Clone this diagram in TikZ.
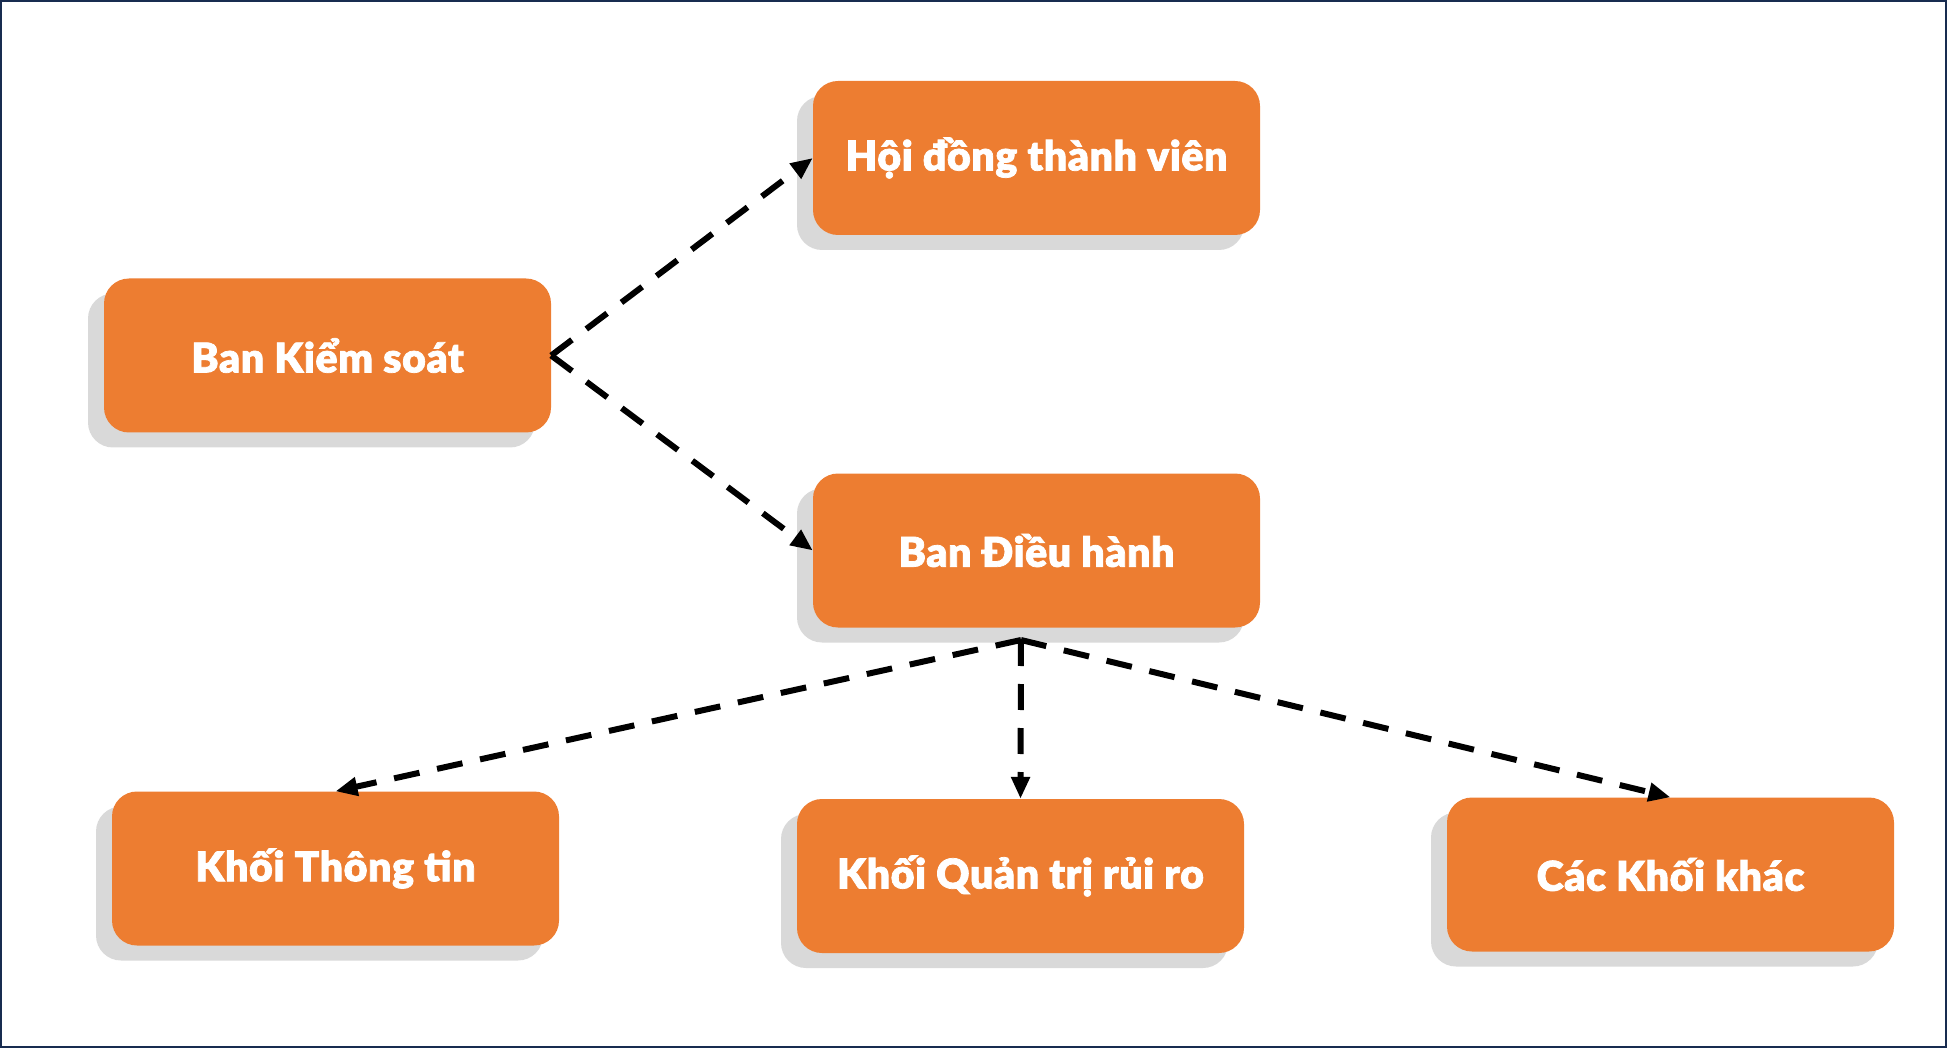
\documentclass[tikz,border=0pt]{standalone}
\usepackage{fontspec}
\newfontfamily\boxfont{Lato Black}[FakeBold=1.8,LetterSpace=1.5]
\usetikzlibrary{shadows,arrows.meta}
\definecolor{boxorange}{RGB}{237,125,49}
\definecolor{shadowgray}{RGB}{217,217,217}
\definecolor{framenavy}{RGB}{24,44,80}
\tikzset{
  orgbox/.style={rounded corners=25pt, fill=boxorange, minimum width=447pt,
    minimum height=154pt, inner sep=0pt, text=white,
    font=\boxfont\fontsize{41}{44}\selectfont,
    drop shadow={shadow xshift=-16pt, shadow yshift=-15pt, fill=shadowgray, opacity=1}},
  link/.style={line width=6pt, dash pattern=on 26pt off 18pt, black,
    -{Triangle[length=22pt,width=18pt]}}
}
\begin{document}
\begin{tikzpicture}[x=1pt,y=-1pt]
\useasboundingbox (0,0) rectangle (1947,1048);
\draw[framenavy, line width=2.4pt] (1.2,1.2) rectangle (1945.8,1046.8);
\node[orgbox] (hd) at (1036.5,158) {Hội đồng thành viên};
\node[orgbox] (bks) at (327.5,355.5) {Ban Kiểm soát};
\node[orgbox] (bdh) at (1036.5,550.5) {Ban Điều hành};
\node[orgbox] (ktt) at (335.5,868.5) {Khối Thông tin};
\node[orgbox] (kqt) at (1020.5,876) {Khối Quản trị rủi ro};
\node[orgbox] (kkk) at (1670.5,874.5) {Các Khối khác};
\coordinate (hub) at (1021,640);
\draw[link] (bks.east) -- (hd.west);
\draw[link] (bks.east) -- (bdh.west);
\draw[link] (hub) -- (ktt.north);
\draw[link] (hub) -- (kqt.north);
\draw[link] (hub) -- (kkk.north);
\end{tikzpicture}
\end{document}
